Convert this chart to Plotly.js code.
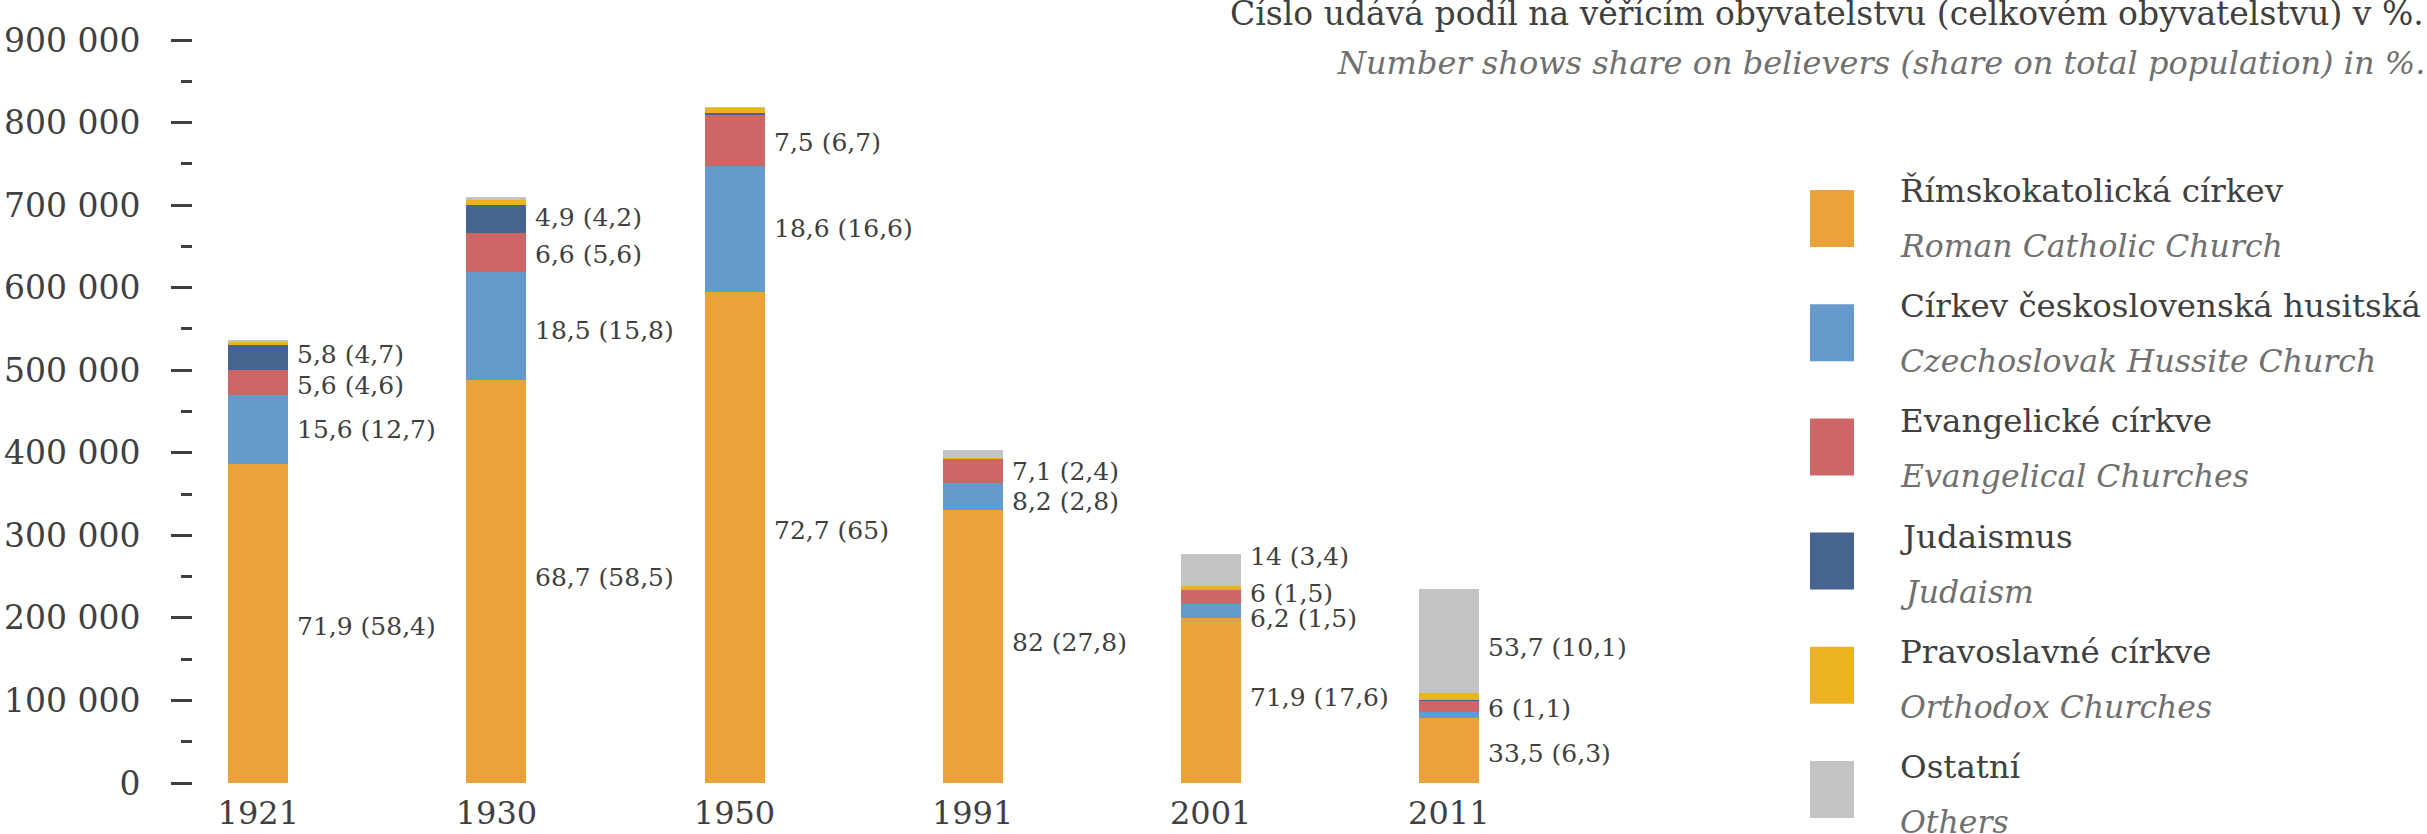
<!DOCTYPE html>
<html>
<head>
<meta charset="utf-8">
<script src="https://cdn.plot.ly/plotly-3.0.1.min.js"></script>
<style>html,body{margin:0;padding:0;background:#fff;}#chart{width:2427px;height:834px;}</style>
</head>
<body>
<div id="chart"></div>
<script>
// ---- data ----
var years = ["1921", "1930", "1950", "1991", "2001", "2011"];
var namesCz = ["Římskokatolická církev", "Církev československá husitská", "Evangelické církve", "Judaismus", "Pravoslavné církve", "Ostatní"];
var namesEn = ["Roman Catholic Church", "Czechoslovak Hussite Church", "Evangelical Churches", "Judaism", "Orthodox Churches", "Others"];
var catholic = [386000, 487600, 595200, 330600, 199500, 78700];
var hussite  = [83800, 131300, 152300, 33000, 17200, 7000];
var evangel  = [30100, 46900, 61400, 28600, 16700, 14100];
var judaism  = [31100, 34800, 2500, 300, 500, 300];
var orthodox = [3600, 5000, 6500, 1500, 4800, 8700];
var others   = [2400, 4200, 1500, 9500, 38900, 126200];
var lblCatholic = ["71,9 (58,4)", "68,7 (58,5)", "72,7 (65)", "82 (27,8)", "71,9 (17,6)", "33,5 (6,3)"];
var lblHussite  = ["15,6 (12,7)", "18,5 (15,8)", "18,6 (16,6)", "8,2 (2,8)", "6,2 (1,5)", null];
var lblEvangel  = ["5,6 (4,6)", "6,6 (5,6)", "7,5 (6,7)", "7,1 (2,4)", "6 (1,5)", "6 (1,1)"];
var lblJudaism  = ["5,8 (4,7)", "4,9 (4,2)", null, null, null, null];
var lblOrthodox = [null, null, null, null, null, null];
var lblOthers   = [null, null, null, null, "14 (3,4)", "53,7 (10,1)"];
var yTickValsStep = 100000;
var yMax = 900000;
var titleCz = "Číslo udává podíl na věřícím obyvatelstvu (celkovém obyvatelstvu) v %.";
var titleEn = "Number shows share on believers (share on total population) in %.";

// ---- styling / layout ----
var colors = ["#EBA238", "#6699CC", "#CD6666", "#46648F", "#EDB220", "#C3C3C3"];
var series = [catholic, hussite, evangel, judaism, orthodox, others];
var labels = [lblCatholic, lblHussite, lblEvangel, lblJudaism, lblOrthodox, lblOthers];
// small vertical nudges of data labels (px, + = up), to avoid overlaps as in original
var nudges = [
  [-3, 4, 7, 4, 3, -3],
  [0, -4, 0, -5, -7, 0],
  [-3, -2, -2, 0, 4, -2],
  [3, 1, 0, 0, 0, 0],
  [0, 0, 0, 0, 0, 0],
  [0, 0, 0, 0, 13, -6]
];
var FONT = "DejaVu Serif";
var TXT = "#404040";
var W = 2427, Hh = 834;
var L = 193, R = 1700, T = 40, B = 783;
var PW = R - L, PH = B - T;
function xp(px) { return (px - L) / PW; }
function yp(py) { return (B - py) / PH; }
var c0 = 258.3, step = 238.1;

var traces = series.map(function (vals, k) {
  return {
    type: "bar", x: years, y: vals, name: namesCz[k],
    marker: { color: colors[k], line: { width: 0 } },
    hoverinfo: "skip", showlegend: false
  };
});

var annotations = [];
// data labels at segment centers
var base = years.map(function () { return 0; });
series.forEach(function (vals, k) {
  vals.forEach(function (v, i) {
    var mid = base[i] + v / 2;
    if (labels[k][i]) {
      annotations.push({
        xref: "x", yref: "y", x: i, y: mid, text: labels[k][i],
        xanchor: "left", yanchor: "middle", xshift: 37, yshift: nudges[k][i],
        showarrow: false, font: { family: FONT, size: 25, color: TXT }
      });
    }
    base[i] += v;
  });
});
// title (top right)
annotations.push({ xref: "paper", yref: "paper", x: xp(2426), y: yp(13), text: titleCz,
  xanchor: "right", yanchor: "middle", showarrow: false, font: { family: FONT, size: 33, color: TXT } });
annotations.push({ xref: "paper", yref: "paper", x: xp(2427), y: yp(63), text: "<i>" + titleEn + "</i>",
  xanchor: "right", yanchor: "middle", showarrow: false, font: { family: FONT, size: 32, color: "#707070" } });

// custom legend
var shapes = [];
namesCz.forEach(function (n, k) {
  var top = 190 + k * 114.2;
  shapes.push({ type: "rect", xref: "paper", yref: "paper", x0: xp(1810), x1: xp(1854), y0: yp(top + 57), y1: yp(top),
    fillcolor: colors[k], line: { width: 0 } });
  var czBase = 201 + k * 115.2, enBase = 256 + k * 115.2;
  annotations.push({ xref: "paper", yref: "paper", x: xp(1898), y: yp(czBase - 10), text: n,
    xanchor: "left", yanchor: "middle", showarrow: false, font: { family: FONT, size: 32.5, color: TXT } });
  annotations.push({ xref: "paper", yref: "paper", x: xp(1898), y: yp(enBase - 10), text: "<i>" + namesEn[k] + "</i>",
    xanchor: "left", yanchor: "middle", showarrow: false, font: { family: FONT, size: 31.5, color: "#707070" } });
});

var layout = {
  width: W, height: Hh,
  margin: { l: L, r: W - R, t: T, b: Hh - B, pad: 0 },
  paper_bgcolor: "#ffffff", plot_bgcolor: "#ffffff",
  barmode: "stack", bargap: 0.748,
  separators: ", ",
  showlegend: false,
  font: { family: FONT, color: TXT },
  xaxis: {
    type: "category", range: [(L - c0) / step, (R - c0) / step],
    showgrid: false, zeroline: false, showline: false, ticks: "",
    tickfont: { family: FONT, size: 32, color: TXT }, ticklabelstandoff: 8
  },
  yaxis: {
    range: [0, yMax], dtick: yTickValsStep, tick0: 0,
    showgrid: false, zeroline: false, showline: false,
    ticks: "outside", ticklen: 21, tickwidth: 3, tickcolor: TXT,
    exponentformat: "none", separatethousands: true,
    tickfont: { family: FONT, size: 33, color: TXT }, ticklabelstandoff: 24,
    minor: { dtick: yTickValsStep / 2, ticks: "outside", ticklen: 11, tickwidth: 3, tickcolor: TXT, showgrid: false }
  },
  annotations: annotations, shapes: shapes
};

Plotly.newPlot("chart", traces, layout, { staticPlot: true, displayModeBar: false });
</script>
</body>
</html>
